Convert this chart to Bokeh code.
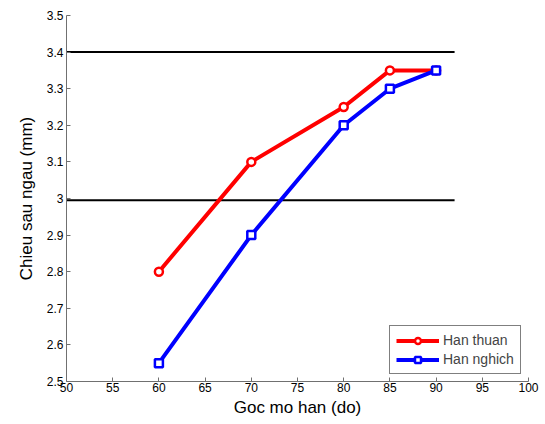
from bokeh.plotting import figure
from bokeh.models import Range1d, FixedTicker, Legend, LegendItem
from bokeh.embed import file_html
from bokeh.resources import INLINE

angles = [60, 70, 80, 85, 90]
han_thuan = [2.80, 3.10, 3.25, 3.35, 3.35]
han_nghich = [2.55, 2.90, 3.20, 3.30, 3.35]
ref_levels = [3.4, 2.995]
ref_x = [50, 92]
x_ticks = [50, 55, 60, 65, 70, 75, 80, 85, 90, 95, 100]
y_ticks = [2.5, 2.6, 2.7, 2.8, 2.9, 3.0, 3.1, 3.2, 3.3, 3.4, 3.5]

FONT = "Liberation Sans"

p = figure(width=545, height=424, output_backend="svg", toolbar_location=None,
           x_range=Range1d(50, 100), y_range=Range1d(2.5, 3.5),
           min_border_left=66, min_border_right=17, min_border_top=15, min_border_bottom=43)
p.outline_line_color = None
p.grid.grid_line_color = None
p.background_fill_color = "white"
p.border_fill_color = "white"

for lvl in ref_levels:
    p.line(ref_x, [lvl, lvl], line_color="black", line_width=2)

r1 = p.line(angles, han_thuan, line_color="#ff0000", line_width=4)
m1 = p.scatter(angles, han_thuan, marker="circle", size=8, line_color="#ff0000",
               line_width=2.5, fill_color="white")
r2 = p.line(angles, han_nghich, line_color="#0000ff", line_width=4)
m2 = p.scatter(angles, han_nghich, marker="square", size=8, line_color="#0000ff",
               line_width=2.5, fill_color="white")

for ax in (p.xaxis[0], p.yaxis[0]):
    ax.axis_line_color = "#707070"
    ax.axis_line_width = 1
    ax.major_tick_line_color = "#707070"
    ax.major_tick_in = 4
    ax.major_tick_out = 0
    ax.minor_tick_line_color = None
    ax.major_label_text_font = FONT
    ax.major_label_text_font_size = "12px"
    ax.major_label_text_color = "black"
    ax.axis_label_text_font = FONT
    ax.axis_label_text_font_size = "17px"
    ax.axis_label_text_font_style = "normal"
    ax.axis_label_text_color = "black"

p.xaxis.ticker = FixedTicker(ticks=x_ticks)
p.yaxis.ticker = FixedTicker(ticks=y_ticks)
p.yaxis.major_label_overrides = {3.0: "3", 3: "3"}
p.xaxis.major_label_standoff = 1
p.yaxis.major_label_standoff = 3
p.xaxis.axis_label = "Goc mo han (do)"
p.yaxis.axis_label = "Chieu sau ngau (mm)"
p.xaxis.axis_label_standoff = 3
p.yaxis.axis_label_standoff = 8

legend = Legend(items=[LegendItem(label="Han thuan", renderers=[r1, m1]),
                       LegendItem(label="Han nghich", renderers=[r2, m2])],
                location=(323, 7))
legend.border_line_color = "black"
legend.border_line_width = 1.5
legend.label_text_font = FONT
legend.label_text_font_size = "14px"
legend.glyph_width = 43
legend.glyph_height = 15
legend.spacing = 3
legend.padding = 6
legend.margin = 0
legend.label_standoff = 4
legend.label_height = 15
legend.background_fill_alpha = 1
p.add_layout(legend)

open("out.html", "w").write(file_html(p, INLINE))
